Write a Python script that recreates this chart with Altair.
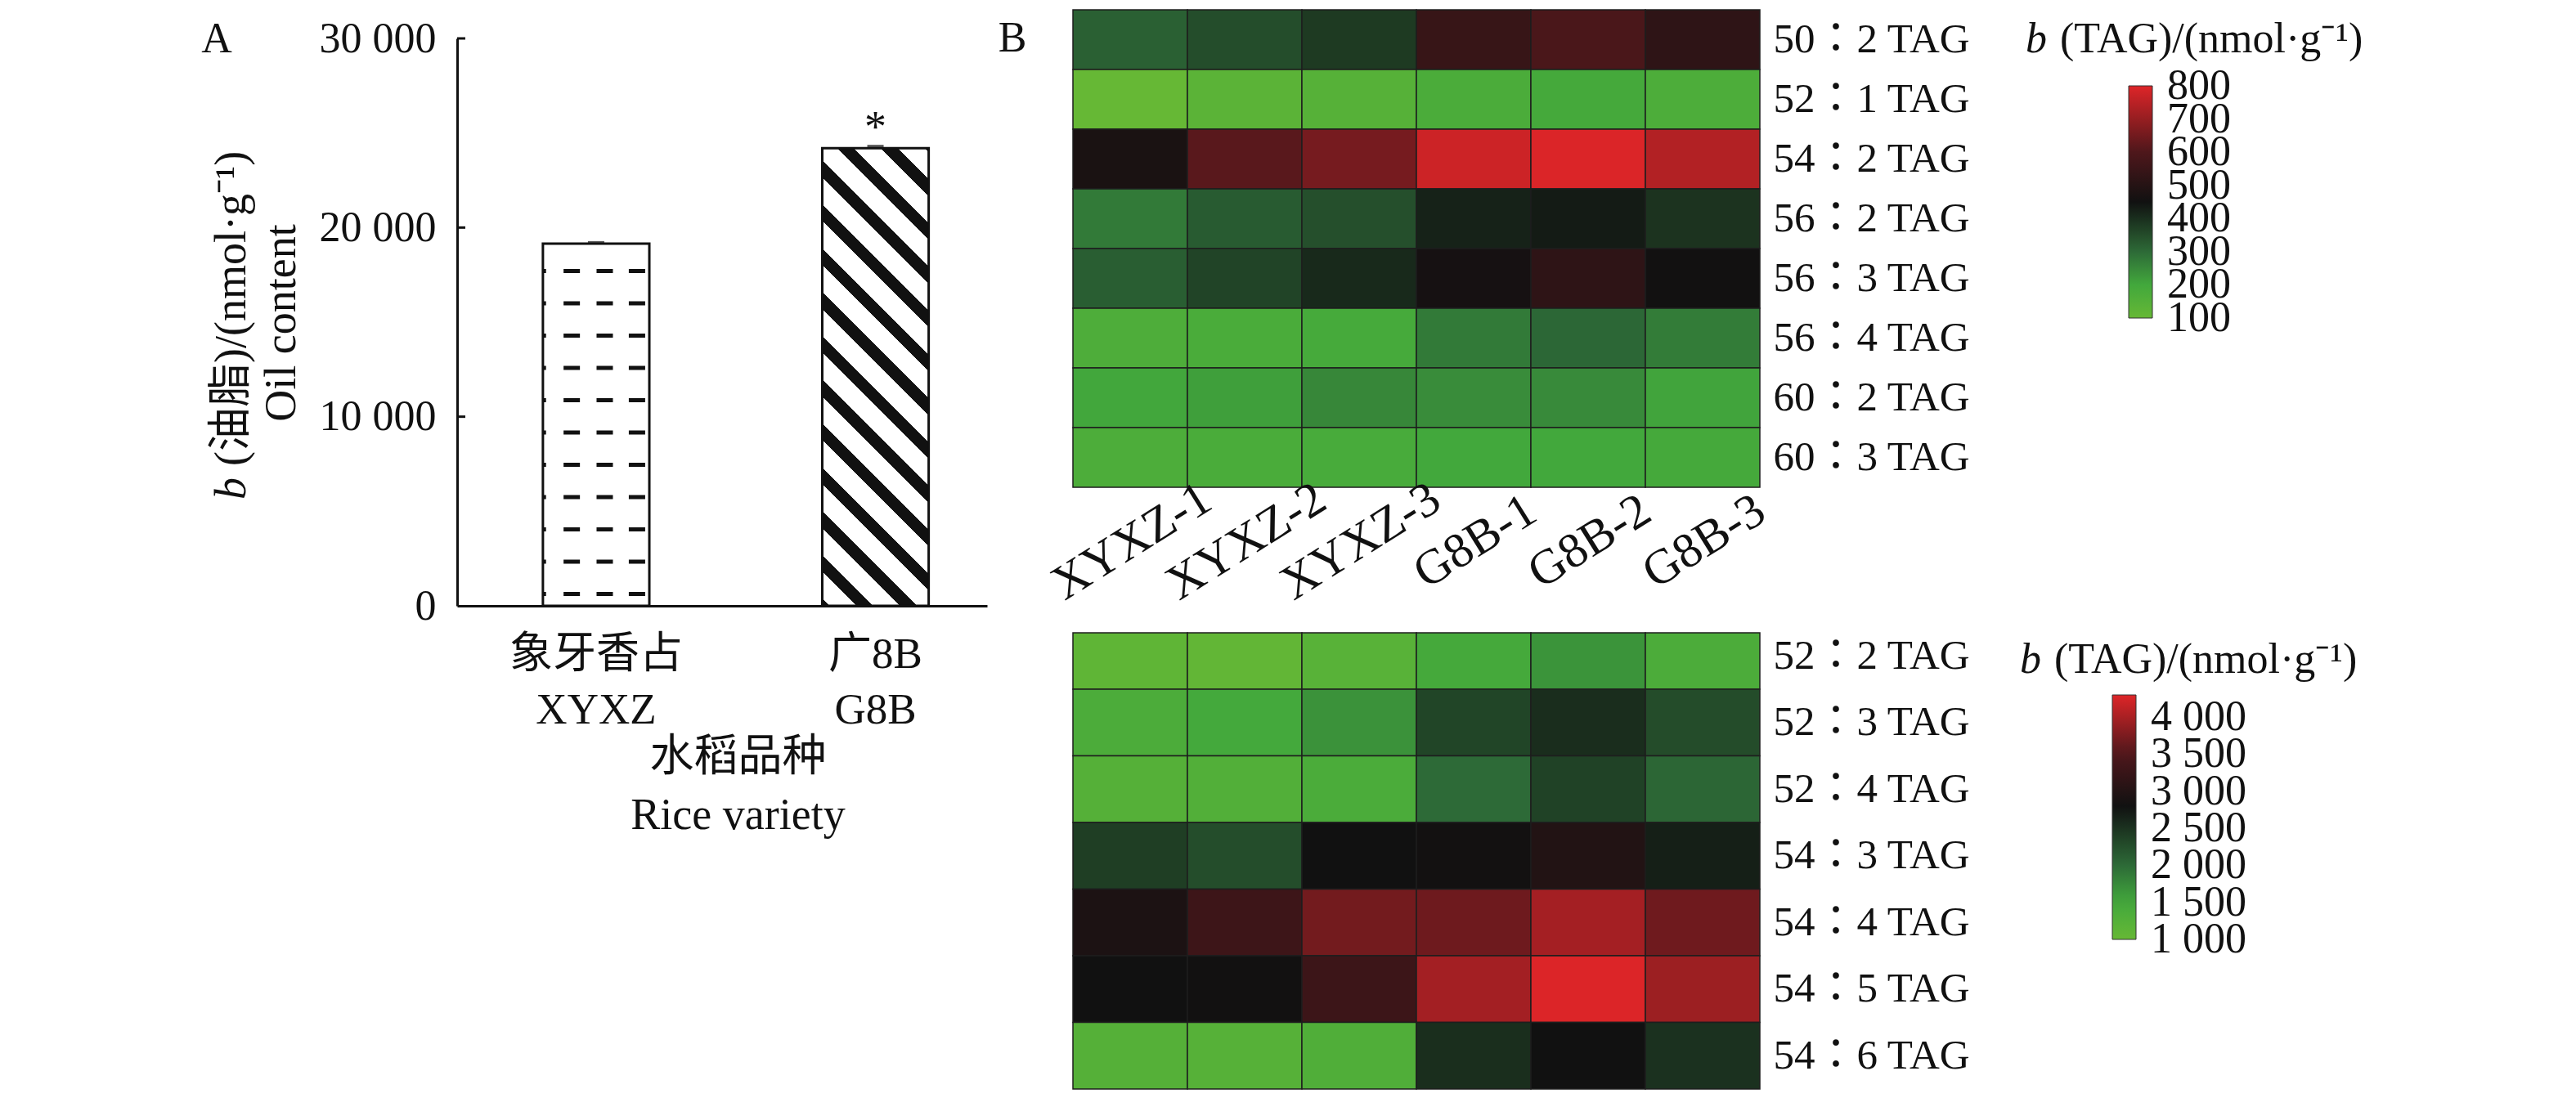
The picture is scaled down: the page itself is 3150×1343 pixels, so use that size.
import json
import altair as alt
import pandas as pd

# ---------------- data ----------------
varieties = ["XYXZ", "G8B"]
varieties_cn = ["象牙香占", "广8B"]
oil_content = [19150, 24200]
oil_sd = [70, 110]
significance = ["", "*"]
oil_ticks = [0, 10000, 20000, 30000]

samples = ["XYXZ-1", "XYXZ-2", "XYXZ-3", "G8B-1", "G8B-2", "G8B-3"]

top_species = ["50：2 TAG", "52：1 TAG", "54：2 TAG", "56：2 TAG",
               "56：3 TAG", "56：4 TAG", "60：2 TAG", "60：3 TAG"]
top_values = [
    [317, 349, 381, 543, 590, 521],
    [100, 130, 144, 175, 192, 169],
    [472, 615, 656, 775, 796, 739],
    [274, 325, 345, 422, 433, 393],
    [320, 364, 410, 462, 521, 452],
    [167, 178, 190, 274, 305, 271],
    [202, 215, 253, 245, 249, 206],
    [170, 178, 183, 199, 200, 192],
]
top_legend_ticks = [100, 200, 300, 400, 500, 600, 700, 800]

bottom_species = ["52：2 TAG", "52：3 TAG", "52：4 TAG", "54：3 TAG",
                  "54：4 TAG", "54：5 TAG", "54：6 TAG"]
bottom_values = [
    [1097, 1055, 1194, 1458, 1661, 1361],
    [1361, 1470, 1677, 2332, 2548, 2270],
    [1236, 1280, 1375, 2000, 2360, 2036],
    [2394, 2261, 2800, 2820, 2996, 2674],
    [2926, 3304, 3705, 3678, 3978, 3683],
    [2800, 2810, 3290, 3972, 4290, 3933],
    [1236, 1222, 1300, 2540, 2800, 2512],
]
bottom_legend_ticks = [1000, 1500, 2000, 2500, 3000, 3500, 4000]

# ---------------- style / layout ----------------
W, H = 3134, 1327
FONT = "Liberation Serif, Noto Sans CJK TC"
INK = "#111111"
HEAT_COLORS = ["#66B835", "#42A83C", "#2D6A37", "#111111", "#4E171B", "#DE2528"]
# colour stops (the tiny margins keep the end labels of the colour bars centred on their ticks)
TOP_CDOM = [99.9, 200, 300, 450, 600, 800.1]
BOT_CDOM = [999.9, 1500, 2000, 2800, 3500, 4300]

A_XR = [551, 1199]
A_YR = [733, 39]
A_AXIS_X = 551
A_AXIS_Y = 733
Y_MAX = 30000
P_IN, P_OUT, P_ALIGN = 0.619, 0.258, 0.595
LIMIT = 3000

NUM_EXPR = "replace(format(datum.value, ','), ',', ' ')"

# geometry of the striped bar (for the gradient stripes)
step = (A_XR[1] - A_XR[0]) / (2 - P_IN + 2 * P_OUT)
bar_w = step * (1 - P_IN)
bar_h = oil_content[1] / Y_MAX * (A_YR[0] - A_YR[1])


def stripe_gradient(bw, bh, period=53.6, black_frac=0.38, phase=41.9):
    L = bw + bh
    c = L / (bw ** 2 + bh ** 2)
    x2 = bw * c
    y2 = 1 - bh * c
    stops = []

    def add(o, col):
        stops.append({"offset": round(min(max(o / L, 0.0), 1.0), 5), "color": col})

    segs = []
    k = -2
    while True:
        s0 = phase + k * period
        if s0 > L:
            break
        segs.append((s0, s0 + black_frac * period))
        k += 1
    cur = 0.0
    for s0, s1 in segs:
        if s1 <= 0:
            continue
        a, b = max(s0, 0.0), min(s1, L)
        if a > cur:
            add(cur, "white")
            add(a, "white")
        add(a, INK)
        add(b, INK)
        cur = b
    if cur < L:
        add(cur, "white")
        add(L, "white")
    return {"gradient": "linear", "x1": 0, "y1": 1, "x2": x2, "y2": y2, "stops": stops}


STRIPES = stripe_gradient(bar_w, bar_h)

# ---------------- panel A ----------------
bar_df = pd.DataFrame({"variety": varieties, "cn": varieties_cn, "value": oil_content,
                       "sd": oil_sd, "sig": significance})

parts = [f"datum.label == '{en}' ? ['{cn}', '{en}']" for cn, en in zip(varieties_cn, varieties)]
XLABEL_EXPR = " : ".join(parts) + " : datum.label"


def xA(bp=None):
    kw = {}
    if bp is not None:
        kw["bandPosition"] = bp
    return alt.X(
        "variety:N", sort=varieties,
        scale=alt.Scale(range=A_XR, paddingInner=P_IN, paddingOuter=P_OUT, align=P_ALIGN),
        axis=alt.Axis(orient="bottom", offset=A_AXIS_Y - H, ticks=False, tickSize=0, grid=False,
                      domainColor=INK, domainWidth=3, labelExpr=XLABEL_EXPR, labelAngle=0,
                      labelFont=FONT, labelFontSize=53, labelColor=INK, labelPadding=33,
                      labelBaseline="top", labelAlign="center", labelLineHeight=68,
                      labelLimit=LIMIT,
                      title=["水稻品种", "Rice variety"], titleFont=FONT, titleFontSize=54,
                      titleFontWeight="normal", titleColor=INK, titleLineHeight=71,
                      titleBaseline="top", titleX=894, titleY=158, titleLimit=LIMIT),
        **kw)


def yA(field):
    return alt.Y(
        f"{field}:Q",
        scale=alt.Scale(domain=[0, Y_MAX], range=A_YR, nice=False, zero=True),
        axis=alt.Axis(orient="left", offset=-A_AXIS_X, values=oil_ticks, labelExpr=NUM_EXPR,
                      ticks=False, tickSize=0, grid=False, domainColor=INK, domainWidth=3,
                      labelFont=FONT, labelFontSize=52, labelColor=INK, labelPadding=26,
                      labelBaseline="middle", labelLimit=LIMIT, title=None))


bars = alt.Chart(bar_df).mark_bar(stroke=INK, strokeWidth=3).encode(
    x=xA(), y=yA("value"), y2=alt.Y2(datum=0),
    fill=alt.condition(alt.datum.variety == varieties[1], alt.value(STRIPES), alt.value("white")),
)

dash_layers = []
for bp, sw in [(0.018, 3), (0.271, 20), (0.581, 20), (0.884, 20)]:
    dash_layers.append(
        alt.Chart(bar_df).transform_filter(alt.datum.variety == varieties[0])
        .mark_rule(color=INK, strokeWidth=sw, strokeDash=[5, 34.5], strokeDashOffset=8.4,
                   strokeCap="butt")
        .encode(x=xA(bp), y=yA("value"), y2=alt.Y2(datum=0))
    )

err = alt.Chart(bar_df).transform_calculate(top="datum.value + datum.sd").mark_tick(
    color=INK, thickness=3, size=20).encode(x=xA(), y=yA("top"))

star = alt.Chart(bar_df).transform_calculate(top="datum.value + datum.sd").mark_text(
    font=FONT, fontSize=54, baseline="alphabetic", dy=-6, color=INK).encode(
    x=xA(), y=yA("top"), text="sig:N")

tick_df = pd.DataFrame({"tick": oil_ticks})
inner_ticks = alt.Chart(tick_df).transform_filter("datum.tick > 0").mark_rule(
    color=INK, strokeWidth=3).encode(y=yA("tick"), x=alt.value(A_AXIS_X), x2=alt.value(A_AXIS_X + 10))

panelA = alt.layer(bars, *dash_layers, err, star, inner_ticks)


# ---------------- panel B heatmaps ----------------
def heatmap(species, values, yr, ydom, cdom, lx, ly, glen, lticks, show_x):
    recs = []
    for i, sp in enumerate(species):
        for j, s in enumerate(samples):
            recs.append({"species": sp, "sample": s, "row": i, "row_end": i + 1,
                         "value": values[i][j]})
    df = pd.DataFrame(recs)
    row_expr = json.dumps(species, ensure_ascii=False) + "[floor(datum.value)]"
    if show_x:
        xaxis = alt.Axis(orient="bottom", offset=yr[1] - H, ticks=False, tickSize=0, domain=False,
                         grid=False, labelAngle=-32, labelAlign="center", labelBaseline="middle",
                         labelPadding=66, labelOffset=2, labelFont=FONT, labelFontSize=60,
                         labelColor=INK, labelLimit=LIMIT, labelOverlap=False, title=None)
    else:
        xaxis = None
    return alt.Chart(df).mark_rect(stroke="#1e1e1e", strokeWidth=1.5).encode(
        x=alt.X("sample:N", sort=samples,
                scale=alt.Scale(range=[1304, 2144], paddingInner=0, paddingOuter=0), axis=xaxis),
        y=alt.Y("row:Q", scale=alt.Scale(domain=ydom, range=yr, clamp=True, nice=False, zero=False),
                axis=alt.Axis(orient="right", offset=2146 - W,
                              values=[i + 0.5 for i in range(len(species))], labelExpr=row_expr,
                              ticks=False, tickSize=0, domain=False, grid=False, labelFont=FONT,
                              labelFontSize=51, labelColor=INK, labelPadding=14,
                              labelAlign="left", labelBaseline="middle", labelLimit=LIMIT,
                              labelOverlap=False, title=None)),
        y2="row_end:Q",
        color=alt.Color("value:Q",
                        scale=alt.Scale(domain=cdom, range=HEAT_COLORS, interpolate="rgb"),
                        legend=alt.Legend(orient="none", legendX=lx, legendY=ly,
                                          direction="vertical", title=None, gradientLength=glen,
                                          gradientThickness=29, values=lticks, labelExpr=NUM_EXPR,
                                          labelFont=FONT, labelFontSize=52, labelColor=INK,
                                          labelOffset=18, labelOverlap=False, labelLimit=LIMIT,
                                          gradientStrokeColor="#333333", gradientStrokeWidth=1,
                                          padding=0)),
    )


heat_top = heatmap(top_species, top_values, [4, 588], [0, 8], TOP_CDOM, 2595, 97, 284,
                   top_legend_ticks, True)
heat_bottom = heatmap(bottom_species, bottom_values, [766, 1324], [0.155, 7], BOT_CDOM, 2575, 842,
                      299, bottom_legend_ticks, False)


# ---------------- annotations ----------------
def note(text, x, y, size=52, angle=0, align="center", style="normal"):
    return alt.Chart(alt.Data(values=[{}])).mark_text(
        text=text, font=FONT, fontSize=size, angle=angle, align=align, baseline="middle",
        fontStyle=style, color=INK, limit=LIMIT).encode(x=alt.value(x), y=alt.value(y))


notes = [
    note("A", 257, 40),
    note("B", 1230, 39),
    note("b", 276, 603, size=54, angle=270, align="left", style="italic"),
    note("(油脂)/(nmol·g⁻¹)", 276, 562, size=54, angle=270, align="left"),
    note("Oil content", 337, 387, size=54, angle=270),
    note("b", 2469, 40, size=52, align="left", style="italic"),
    note("(TAG)/(nmol·g⁻¹)", 2511, 40, size=52, align="left"),
    note("b", 2462, 799, size=52, align="left", style="italic"),
    note("(TAG)/(nmol·g⁻¹)", 2504, 799, size=52, align="left"),
]

chart = alt.layer(panelA, heat_top, heat_bottom, *notes).resolve_scale(
    x="independent", y="independent", color="independent"
).resolve_axis(
    x="independent", y="independent"
).resolve_legend(
    color="independent"
).properties(
    width=W, height=H, padding=0, autosize=alt.AutoSizeParams(type="none"), background="white"
).configure_view(strokeWidth=0)

chart.save("out.html", embed_options={"renderer": "svg", "actions": False})
